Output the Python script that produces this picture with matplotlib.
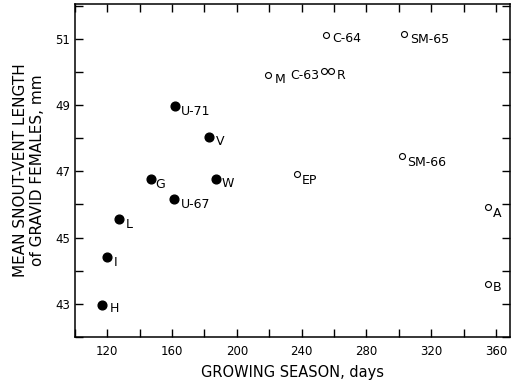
import matplotlib
matplotlib.use('Agg')
import matplotlib.pyplot as plt
from matplotlib.ticker import MultipleLocator

# filled circles
filled_names = ['U-71', 'V', 'G', 'W', 'U-67', 'L', 'I', 'H']
filled_days = [162, 183, 147, 187, 161, 127, 120, 117]
filled_len = [48.98, 48.04, 46.76, 46.76, 46.16, 45.56, 44.42, 42.97]

# open circles
open_names = ['C-64', 'SM-65', 'M', 'C-63', 'R', 'EP', 'SM-66', 'A', 'B']
open_days = [255, 303, 219, 254, 258, 237, 302, 355, 355]
open_len = [51.12, 51.14, 49.91, 50.02, 50.02, 46.93, 47.46, 45.91, 43.6]

# label offsets in pixels (dx, dy downwards)
offs = {'U-71': (6, 6), 'V': (7, 4.5), 'G': (4, 5), 'W': (6, 4), 'U-67': (7, 5),
        'L': (7, 6), 'I': (6.5, 6), 'H': (7.5, 4), 'C-64': (6, 4), 'SM-65': (6, 5),
        'M': (7, 5), 'C-63': (-5, 4), 'R': (6, 4), 'EP': (5, 7), 'SM-66': (5, 6.5),
        'A': (4.5, 6), 'B': (4.5, 4)}

fig = plt.figure(figsize=(5.16, 3.86), dpi=100)
ax = fig.add_axes([0.145, 0.127, 0.843, 0.863])

ax.plot(filled_days, filled_len, 'o', color='black', markersize=6.3, linestyle='none')
ax.plot(open_days, open_len, 'o', markerfacecolor='white', markeredgecolor='black',
        markersize=4.3, markeredgewidth=0.8, linestyle='none')

px = 72 / 100
for names, xs, ys in [(filled_names, filled_days, filled_len), (open_names, open_days, open_len)]:
    for n, x, y in zip(names, xs, ys):
        dx, dy = offs[n]
        ax.annotate(n, (x, y), xytext=(dx * px, -dy * px), textcoords='offset points',
                    ha='right' if dx < 0 else 'left', va='center', fontsize=9)

ax.set_xlim(100, 368.5)
ax.set_ylim(42, 52.05)
ax.set_xticks([120, 160, 200, 240, 280, 320, 360])
ax.xaxis.set_minor_locator(MultipleLocator(20))
ax.set_yticks([43, 45, 47, 49, 51])
ax.yaxis.set_minor_locator(MultipleLocator(1))
ax.tick_params(which='both', direction='in', top=True, right=True, length=6, width=1,
               labelsize=8.5)
ax.tick_params(axis='x', pad=6)
for s in ax.spines.values():
    s.set_linewidth(1.1)

ax.set_xlabel('GROWING SEASON, days', fontsize=10.5, labelpad=5)
ax.set_ylabel('MEAN SNOUT-VENT LENGTH\nof GRAVID FEMALES, mm', fontsize=11,
              labelpad=7, linespacing=1.15)

fig.savefig('out.png', dpi=100)
